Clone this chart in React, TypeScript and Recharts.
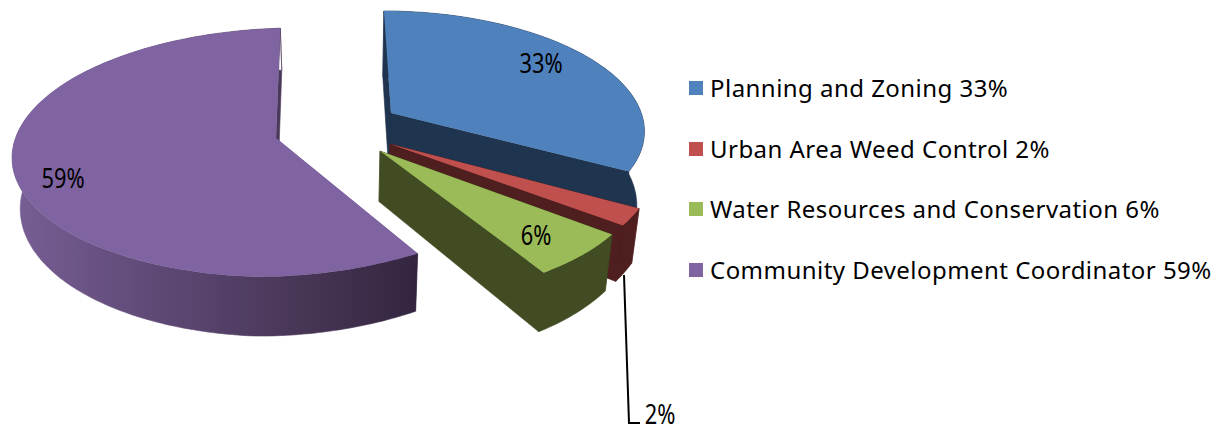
import React from "react";
import { PieChart, Pie, Legend } from "recharts";

const categories = [
  "Planning and Zoning",
  "Urban Area Weed Control",
  "Water Resources and Conservation",
  "Community Development Coordinator",
];
const shares = [33, 2, 6, 59];
const topColors = ["#4f81bd", "#c0504d", "#9bbb59", "#8064a2"];
const wallColors = ["#1f344e", "#4f1f1f", "#414c23", "url(#purpleWall)"];
const cutColors = ["#1f344e", "#4f1f1f", "#414c23", "#6b5488"];

const tableData = categories.map((name, i) => ({ name, value: shares[i], fill: topColors[i] }));

// Perspective placement of every exploded slice (styling, not data).
const projections = [
  { cx: 391, cy: 113, ax: 391, ay: 113, rx: 252, ry: 115, p: 0.127, q: 0.007, s: -8, c: 0, tx: 0, ty: 0, extra: 25 },
  { cx: 390, cy: 144, ax: 390, ay: 144, rx: 263, ry: 116, p: 0.28, q: 0, s: 31, c: 0, tx: 0, ty: 0, extra: 0 },
  { cx: 380, cy: 151, ax: 380, ay: 151, rx: 266, ry: 138, p: 0.05, q: 0, s: -17, c: 0, tx: 0, ty: 0, extra: 0 },
  { cx: 278, cy: 140, ax: 276, ay: 138, rx: 272, ry: 123, p: 0.1, q: -0.0716, s: 12.5, c: -10, tx: -5, ty: -8, extra: 0 },
];
const labelSpots = [
  { x: 541, y: 73 },
  { x: 660, y: 424 },
  { x: 536, y: 245 },
  { x: 63, y: 188 },
];

type Pt = [number, number];
type Proj = (typeof projections)[number];

const rimPoint = (g: Proj, deg: number): Pt => {
  const t = (deg * Math.PI) / 180;
  const sin = Math.sin(t);
  const cos = Math.cos(t);
  const w = 1 + g.p * cos + g.q * sin;
  const right = Math.max(sin, 0);
  return [
    g.cx + (g.rx * sin + g.s * cos + g.c + g.tx * right) / w,
    g.cy + (-g.ry * cos + g.ty * right) / w,
  ];
};
const drop = (pt: Pt, extra: number): Pt => [pt[0] * 0.975 + 8.5, pt[1] * 1.07 + 40 + extra];
const area = (pts: Pt[]) =>
  pts.reduce((sum, p, i) => {
    const n = pts[(i + 1) % pts.length];
    return sum + p[0] * n[1] - n[0] * p[1];
  }, 0);
const toPath = (raw: Pt[]) => {
  const pts = area(raw) < 0 ? [...raw].reverse() : raw;
  return "M" + pts.map((p) => `${p[0].toFixed(1)},${p[1].toFixed(1)}`).join("L") + "Z";
};

const Slice3D = (props: any) => {
  const index = categories.indexOf(props.name ?? props.payload?.name);
  const g = projections[index];
  const from = 90 - props.startAngle;
  const to = 90 - props.endAngle;
  const rim: Pt[] = [];
  const steps = Math.max(2, Math.ceil(to - from));
  for (let i = 0; i <= steps; i++) rim.push(rimPoint(g, from + ((to - from) * i) / steps));
  const apex: Pt = [g.ax, g.ay];
  const lowRim = rim.map((p) => drop(p, g.extra));
  const lowApex = drop(apex, g.extra);
  const first = rim[0];
  const last = rim[rim.length - 1];
  const firstCut = toPath([apex, first, lowRim[0], lowApex]);
  const lastCut = toPath([apex, last, lowRim[lowRim.length - 1], lowApex]);
  const outer = toPath([...rim, ...[...lowRim].reverse()]);
  const sameColor = cutColors[index] === wallColors[index];
  return (
    <g>
      {!sameColor && <path d={firstCut} fill={cutColors[index]} />}
      <path
        d={(sameColor ? firstCut : "") + lastCut + outer}
        fill={wallColors[index]}
        stroke={wallColors[index]}
        strokeWidth={0.6}
      />
      <path d={toPath([apex, ...rim])} fill={props.fill} />
    </g>
  );
};

const renderLabel = (props: any) => {
  const index = categories.indexOf(props.name ?? props.payload?.name);
  const spot = labelSpots[index];
  return (
    <g key={index}>
      {index === 1 && (
        <polyline points="624,275 629,423 640,423" fill="none" stroke="#000" strokeWidth={2} />
      )}
      <text
        transform={`translate(${spot.x} ${spot.y}) scale(0.78 1)`}
        textAnchor="middle"
        fontFamily="'Noto Sans', sans-serif"
        fontSize={28}
        fill="#000"
      >
        {`${props.value}%`}
      </text>
    </g>
  );
};

const renderLegend = (props: any) => (
  <div style={{ position: "relative", width: 1212, height: 426 }}>
    {(props.payload ?? []).map((entry: any, i: number) => (
      <div key={entry.value}>
        <span
          style={{
            position: "absolute",
            left: 689,
            top: 81 + i * 60.7,
            width: 14,
            height: 14,
            background: entry.color,
          }}
        />
        <span
          style={{
            position: "absolute",
            left: 710,
            top: 88 + i * 60.7 - 20,
            lineHeight: "40px",
            height: 40,
            whiteSpace: "nowrap",
            fontFamily: "'Noto Sans', sans-serif",
            fontSize: 24,
            letterSpacing: 0.46,
            color: "#000",
          }}
        >
          {`${entry.value} ${shares[categories.indexOf(entry.value)]}%`}
        </span>
      </div>
    ))}
  </div>
);

export default function App() {
  return (
    <div style={{ position: "absolute", left: 0, top: 0, width: 1212, height: 426, overflow: "hidden", background: "#fff" }}>
      <PieChart width={1212} height={426} margin={{ top: 0, right: 0, bottom: 0, left: 0 }}>
        <defs>
          <linearGradient id="purpleWall" gradientUnits="userSpaceOnUse" x1={20} y1={0} x2={416} y2={0}>
            <stop offset="0" stopColor="#765d93" />
            <stop offset="0.35" stopColor="#5e4975" />
            <stop offset="0.7" stopColor="#483657" />
            <stop offset="1" stopColor="#33253f" />
          </linearGradient>
        </defs>
        <Pie
          data={tableData}
          dataKey="value"
          nameKey="name"
          cx={340}
          cy={170}
          outerRadius={120}
          startAngle={90}
          endAngle={-270}
          stroke="none"
          paddingAngle={0}
          shape={Slice3D}
          label={renderLabel}
          labelLine={false}
          isAnimationActive={false}
        />
        <Legend
          content={renderLegend}
          itemSorter={null as any}
          wrapperStyle={{ position: "absolute", left: 0, top: 0, width: 1212, height: 426 }}
        />
      </PieChart>
    </div>
  );
}
